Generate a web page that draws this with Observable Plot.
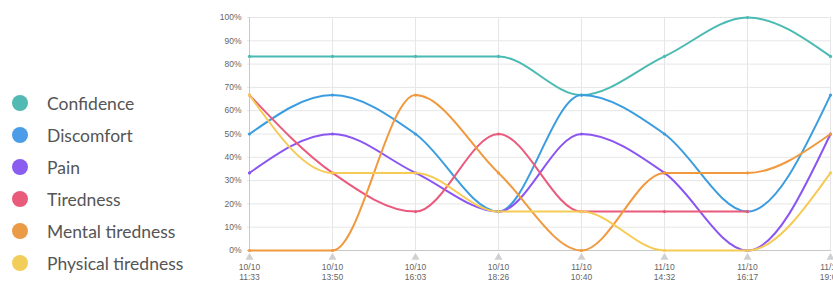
<!DOCTYPE html>
<html>
<head>
<meta charset="utf-8">
<script src="https://cdn.jsdelivr.net/npm/d3@7"></script>
<script src="https://cdn.jsdelivr.net/npm/@observablehq/plot@0.6"></script>
<style>
  html, body { margin: 0; padding: 0; background: #fff; overflow: hidden; }
  #wrap { position: relative; width: 833px; height: 282px; }
  #legend { position: absolute; left: 0; top: 87px; width: 200px; font-family: Lato, sans-serif; font-size: 17.5px; color: #555; }
  .item { display: flex; align-items: center; height: 32px; }
  .sw { width: 16px; height: 16px; border-radius: 50%; margin-left: 12px; margin-right: 19px; flex: none; }
  #chart { position: absolute; left: 200px; top: 0; }
</style>
</head>
<body>
<div id="wrap">
  <div id="legend"></div>
  <div id="chart"></div>
</div>
<script>
const times = ["10/10\n11:33","10/10\n13:50","10/10\n16:03","10/10\n18:26","11/10\n10:40","11/10\n14:32","11/10\n16:17","11/10\n19:05"];
const seriesNames = ["Confidence","Discomfort","Pain","Tiredness","Mental tiredness","Physical tiredness"];
const colors = ["#4bbab3","#3b9ddf","#8b55f2","#ea5a7d","#f0993f","#f5cb55"];
const legendColors = ["#52bab3","#4a9de6","#8a5cf0","#e85b7a","#eb9a46","#f3cd5a"];
const confidence = [83.3, 83.3, 83.3, 83.3, 66.7, 83.3, 100, 83.3];
const discomfort = [50, 66.7, 50, 16.7, 66.7, 50, 16.7, 66.7];
const pain = [33.3, 50, 33.3, 16.7, 50, 33.3, 0, 50];
const tiredness = [66.7, 33.3, 16.7, 50, 16.7, 16.7, 16.7, null];
const mentalTiredness = [0, 0, 66.7, 33.3, 0, 33.3, 33.3, 50];
const physicalTiredness = [66.7, 33.3, 33.3, 16.7, 16.7, 0, 0, 33.3];
const yTicks = [0,10,20,30,40,50,60,70,80,90,100];

const allSeries = [confidence, discomfort, pain, tiredness, mentalTiredness, physicalTiredness];
const data = [];
allSeries.forEach((vals, si) => {
  vals.forEach((v, i) => data.push({series: seriesNames[si], t: times[i], v: v == null ? NaN : v}));
});

const legend = document.getElementById("legend");
seriesNames.forEach((n, i) => {
  const d = document.createElement("div");
  d.className = "item";
  d.innerHTML = `<span class="sw" style="background:${legendColors[i]}"></span><span>${n}</span>`;
  legend.appendChild(d);
});

const plot = Plot.plot({
  width: 633,
  height: 282,
  marginTop: 17,
  marginBottom: 32,
  marginLeft: 47,
  marginRight: 2,
  style: {fontFamily: "Helvetica, Arial, 'Liberation Sans', sans-serif", fontSize: "8.5px", color: "#666", overflow: "visible"},
  x: {type: "point", domain: times, padding: 0},
  y: {domain: [0, 100]},
  color: {domain: seriesNames, range: colors},
  marks: [
    Plot.gridY(yTicks, {stroke: "#e6e6e6", strokeOpacity: 1}),
    Plot.gridX(times, {stroke: "#e6e6e6", strokeOpacity: 1}),
    Plot.ruleY([0], {stroke: "#c8c8c8"}),
    Plot.ruleX([times[0]], {stroke: "#c8c8c8"}),
    Plot.axisY(yTicks, {tickSize: 0, tickPadding: 6, tickFormat: d => d + "%", fill: "#666", label: null}),
    Plot.axisX(times, {tickSize: 0, tickPadding: 13, fill: "#666", label: null, lineHeight: 1.15}),
    Plot.dot(times, {x: d => d, y: 0, symbol: "triangle", r: 3, dy: 7, fill: "#d0d0d0", stroke: null}),
    Plot.line(data, {x: "t", y: "v", z: "series", stroke: "series", curve: "monotone-x", strokeWidth: 2}),
    Plot.dot(data.filter(d => !isNaN(d.v)), {x: "t", y: "v", fill: "series", r: 1.6, stroke: null})
  ]
});
document.getElementById("chart").appendChild(plot);
</script>
</body>
</html>
